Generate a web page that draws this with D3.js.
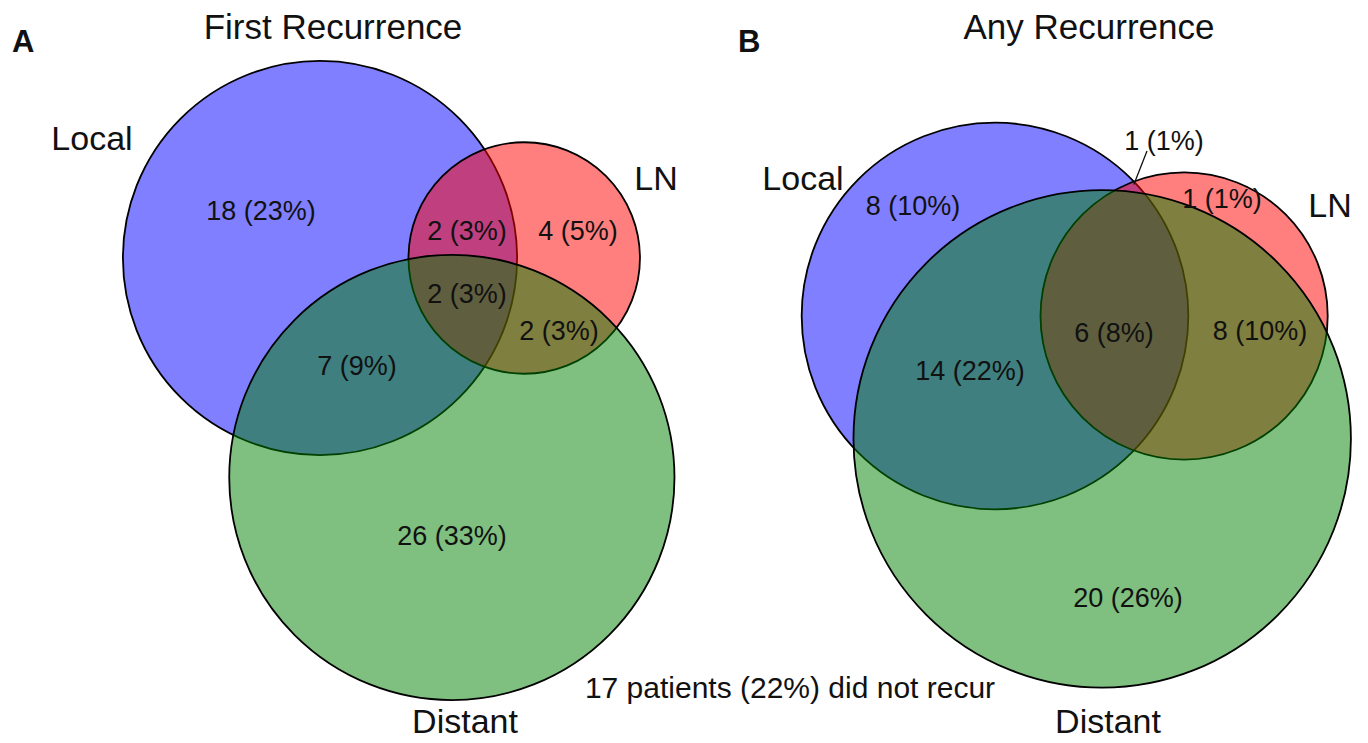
<!DOCTYPE html>
<html>
<head>
<meta charset="utf-8">
<script src="https://cdnjs.cloudflare.com/ajax/libs/d3/7.8.5/d3.min.js"></script>
<style>
body { margin: 0; background: #fff; }
svg text { font-family: "Liberation Sans", Arial, sans-serif; fill: #111; }
</style>
</head>
<body>
<div id="chart"></div>
<script>
// sets, in drawing order
const setNames = ["Local", "LN", "Distant"]
const setColors = ["#0000ff", "#ff0000", "#008000"]

// regions: which sets each one belongs to
const regionKeys = ["Local", "LN", "Distant", "Local&LN", "Local&Distant", "LN&Distant", "Local&LN&Distant"]

// panel A - first recurrence
const firstCounts = [18, 4, 26, 2, 7, 2, 2]
const firstPct = [23, 5, 33, 3, 9, 3, 3]

// panel B - any recurrence
const anyCounts = [8, 1, 20, 1, 14, 8, 6]
const anyPct = [10, 1, 26, 1, 22, 10, 8]

const panelTitles = ["First Recurrence", "Any Recurrence"]
const panelLetters = ["A", "B"]
const noRecurNote = "17 patients (22%) did not recur"

var width = 1368
var height = 743

var svg = d3.select("#chart")
    .append("svg")
        .attr("width", width)
        .attr("height", height)

function lensArea(r1, r2, d) {
    if (d >= r1 + r2) return 0
    if (d <= Math.abs(r1 - r2)) return Math.PI * Math.min(r1, r2) ** 2
    let a = r1 * r1 * Math.acos((d * d + r1 * r1 - r2 * r2) / (2 * d * r1))
    let b = r2 * r2 * Math.acos((d * d + r2 * r2 - r1 * r1) / (2 * d * r2))
    let c = 0.5 * Math.sqrt((-d + r1 + r2) * (d + r1 - r2) * (d - r1 + r2) * (d + r1 + r2))
    return a + b - c
}

// distance between centres giving the wanted overlap area
function distanceFor(r1, r2, area) {
    let lo = Math.abs(r1 - r2), hi = r1 + r2
    for (let i = 0; i < 60; i++) {
        let mid = (lo + hi) / 2
        if (lensArea(r1, r2, mid) > area) lo = mid
        else hi = mid
    }
    return (lo + hi) / 2
}

function setTotal(counts, name) {
    return d3.sum(regionKeys.map((k, i) => k.split("&").includes(name) ? counts[i] : 0))
}

function pairTotal(counts, a, b) {
    return d3.sum(regionKeys.map((k, i) => {
        let s = k.split("&")
        return s.includes(a) && s.includes(b) ? counts[i] : 0
    }))
}

function layout(counts, anchor, unit) {
    // radius from number of patients, area proportional
    let r = d3.scaleSqrt().domain([0, 1]).range([0, unit])
    let radii = setNames.map(n => r(setTotal(counts, n)))
    let area = (a, b) => Math.PI * r(pairTotal(counts, a, b)) ** 2
    let d01 = distanceFor(radii[0], radii[1], area("Local", "LN"))
    let d02 = distanceFor(radii[0], radii[2], area("Local", "Distant"))
    let d12 = distanceFor(radii[1], radii[2], area("LN", "Distant"))
    let x2 = (d02 * d02 - d12 * d12 + d01 * d01) / (2 * d01)
    let y2 = Math.sqrt(Math.max(0, d02 * d02 - x2 * x2))
    let centres = [[0, 0], [d01, 0], [x2, y2]]
    return setNames.map((n, i) => ({
        name: n,
        color: setColors[i],
        cx: anchor[0] + centres[i][0],
        cy: anchor[1] + centres[i][1],
        r: radii[i]
    }))
}

// where each panel sits and where its texts go
const panels = [
    {
        counts: firstCounts, pct: firstPct,
        anchor: [320, 258], unit: 36.6,
        letter: [12, 41], title: [333, 26],
        names: [[92, 138], [656, 178], [465, 721]],
        spots: [[261, 210], [578, 230], [452, 535], [467, 230], [357, 365], [559, 330], [467, 293]]
    },
    {
        counts: anyCounts, pct: anyPct,
        anchor: [995, 316], unit: 35.9,
        letter: [738, 41], title: [1089, 26],
        names: [[803, 178], [1330, 205], [1108, 721]],
        spots: [[913, 205], [1222, 198], [1128, 597], [1164, 140], [970, 370], [1260, 330], [1114, 332]],
        leader: 3
    }
]

panels.forEach(function(p, pi) {
    var g = svg.append("g")
    var circles = layout(p.counts, p.anchor, p.unit)

    g.selectAll("circle")
        .data(circles)
        .join("circle")
        .attr("cx", d => d.cx)
        .attr("cy", d => d.cy)
        .attr("r", d => d.r)
        .style("fill", d => d.color)
        .style("fill-opacity", 0.5)
        .style("stroke", "#000")
        .style("stroke-width", 1.8)

    // leader line to the tiny Local & LN only region
    if (p.leader !== undefined) {
        let a = circles[0], b = circles[1]
        let dx = b.cx - a.cx, dy = b.cy - a.cy
        let d = Math.hypot(dx, dy)
        let l = (a.r * a.r - b.r * b.r + d * d) / (2 * d)
        let h = Math.sqrt(a.r * a.r - l * l)
        let px = a.cx + l * dx / d + h * dy / d
        let py = a.cy + l * dy / d - h * dx / d
        let s = p.spots[p.leader]
        g.append("line")
            .attr("x1", s[0] - 17)
            .attr("y1", s[1] + 11)
            .attr("x2", px)
            .attr("y2", py + 3)
            .style("stroke", "#111")
            .style("stroke-width", 1.3)
    }

    g.selectAll("text.count")
        .data(regionKeys.map((k, i) => ({key: k, n: p.counts[i], pct: p.pct[i], at: p.spots[i]})))
        .join("text")
        .attr("class", "count")
        .attr("x", d => d.at[0])
        .attr("y", d => d.at[1])
        .attr("dy", "0.36em")
        .attr("text-anchor", "middle")
        .style("font-size", "27px")
        .text(d => `${d.n} (${d.pct}%)`)

    g.selectAll("text.setname")
        .data(setNames.map((n, i) => ({name: n, at: p.names[i]})))
        .join("text")
        .attr("class", "setname")
        .attr("x", d => d.at[0])
        .attr("y", d => d.at[1])
        .attr("dy", "0.36em")
        .attr("text-anchor", "middle")
        .style("font-size", "34px")
        .text(d => d.name)

    g.append("text")
        .attr("x", p.title[0])
        .attr("y", p.title[1])
        .attr("dy", "0.36em")
        .attr("text-anchor", "middle")
        .style("font-size", "35px")
        .text(panelTitles[pi])

    g.append("text")
        .attr("x", p.letter[0])
        .attr("y", p.letter[1])
        .attr("dy", "0.36em")
        .style("font-size", "31px")
        .style("font-weight", "bold")
        .text(panelLetters[pi])
})

svg.append("text")
    .attr("x", 790)
    .attr("y", 687)
    .attr("dy", "0.36em")
    .attr("text-anchor", "middle")
    .style("font-size", "30px")
    .text(noRecurNote)
</script>
</body>
</html>
